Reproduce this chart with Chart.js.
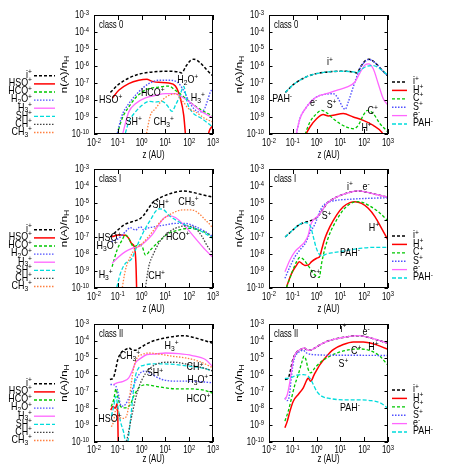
<!DOCTYPE html>
<html><head><meta charset="utf-8">
<script src="https://cdn.jsdelivr.net/npm/chart.js@4"></script>
<style>
html,body{margin:0;padding:0;background:#fff;}
#wrap{position:relative;width:449px;height:468px;overflow:hidden;background:#fff;}
canvas{position:absolute;left:0;top:0;}
</style></head><body><div id="wrap"></div>
<script>
// ---- axis tick labels ----
const xTickLabels = ["10^{-2}","10^{-1}","10^{0}","10^{1}","10^{2}","10^{3}"];
const yTickLabels = ["10^{-3}","10^{-4}","10^{-5}","10^{-6}","10^{-7}","10^{-8}","10^{-9}","10^{-10}"];
const leftSpecies = ["i^+","HSO^+","HCO^+","H_2O^+","H_3^+","SH^+","CH^+","CH_3^+"];
const rightSpecies = ["i^+","H^+","C^+","S^+","e^-","PAH^-"];
// ---- data: [log10 z(AU), log10 n(A)/nH] ----
// total ions (shared by both panels of a class)
const ip_c0 = [[-1.31,-7.55],[-1.0,-7.12],[-0.55,-6.72],[-0.13,-6.49],[0.29,-6.38],[0.71,-6.32],[1.13,-6.31],[1.55,-6.35],[1.68,-6.41],[1.87,-6.0],[2.07,-5.66],[2.2,-5.6],[2.45,-5.8],[2.75,-6.25],[3.0,-6.6]];
const ip_c1 = [[-1.32,-7.0],[-1.04,-6.64],[-0.72,-6.27],[-0.4,-6.1],[-0.1,-5.95],[0.07,-5.75],[0.25,-5.4],[0.45,-5.0],[0.7,-4.75],[1.0,-4.55],[1.4,-4.37],[1.75,-4.29],[2.1,-4.36],[2.5,-4.5],[3.0,-4.66]];
const ip_c2 = [[-1.33,-6.29],[-1.19,-6.2],[-1.09,-5.7],[-1.0,-5.11],[-0.91,-4.81],[-0.77,-4.58],[-0.63,-4.48],[-0.53,-4.42],[-0.42,-4.52],[-0.28,-4.56],[-0.07,-4.42],[0.21,-4.18],[0.56,-3.97],[0.98,-3.83],[1.4,-3.73],[1.75,-3.69],[2.1,-3.77],[2.52,-3.93],[3.0,-4.15]];
// class 0, molecular ions
const c0_HSO = [[-1.22,-7.88],[-0.96,-7.43],[-0.54,-7.04],[-0.12,-6.84],[0.23,-6.78],[0.35,-6.85],[0.5,-6.92],[0.72,-6.96],[1.14,-7.0],[1.42,-7.18],[1.63,-7.92],[1.77,-8.9],[1.87,-10.5],[2.3,null],[2.72,-10.5],[2.85,-9.8],[3.0,-9.5]];
const c0_HCO = [[-1.08,-10.3],[-0.82,-9.1],[-0.54,-8.41],[-0.26,-7.88],[0.02,-7.53],[0.3,-7.33],[0.72,-7.24],[1.14,-7.18],[1.42,-7.43],[1.7,-7.73],[2.12,-8.22],[2.54,-8.61],[3.0,-8.95]];
const c0_H2O = [[-1.08,-10.3],[-0.82,-8.9],[-0.54,-8.22],[-0.26,-7.73],[0.02,-7.33],[0.3,-7.04],[0.72,-6.84],[1.14,-6.84],[1.49,-6.94],[1.75,-7.4],[2.0,-8.1],[2.19,-8.5],[2.4,-8.7],[2.61,-8.6],[2.75,-8.12],[2.89,-7.53],[3.0,-7.3]];
const c0_H3 = [[-0.85,-10.3],[-0.54,-8.7],[-0.26,-8.22],[0.16,-7.88],[0.58,-7.73],[1.0,-7.63],[1.42,-7.63],[1.7,-7.82],[2.12,-8.22],[2.54,-8.7],[3.0,-9.05]];
const c0_SH = [[-0.75,-10.3],[-0.54,-9.3],[-0.26,-8.7],[0.02,-8.31],[0.3,-8.08],[0.58,-8.12],[0.86,-8.08],[1.07,-8.31],[1.28,-8.67],[1.42,-8.31],[1.59,-7.82],[1.77,-7.2],[1.91,-8.12],[2.12,-8.7],[2.54,-9.1],[3.0,-9.6]];
const c0_CH = [];
const c0_CH3 = [[0.16,-10.3],[0.37,-8.9],[0.58,-8.51],[0.86,-8.02],[1.14,-7.73],[1.42,-7.63],[1.7,-8.02],[1.98,-8.51],[2.26,-8.7],[2.68,-9.1],[3.0,-9.3]];
// class 0, atomic ions / electrons / PAH-
const c0_H = [[-0.56,-10.3],[-0.28,-9.59],[0.0,-9.1],[0.28,-8.86],[0.49,-8.94],[0.7,-8.9],[1.12,-8.8],[1.54,-9.0],[1.96,-9.2],[2.38,-9.49],[2.73,-9.88],[2.9,-10.3]];
const c0_C = [[-0.56,-10.3],[-0.28,-9.3],[0.0,-8.8],[0.21,-8.61],[0.42,-8.75],[0.7,-9.1],[0.98,-9.39],[1.26,-9.59],[1.54,-9.69],[1.75,-9.49],[1.96,-8.9],[2.14,-8.61],[2.38,-8.8],[2.66,-9.39],[3.0,-9.88]];
const c0_S = [[-0.9,-10.3],[-0.7,-9.1],[-0.42,-8.41],[-0.14,-7.96],[0.14,-7.73],[0.42,-7.65],[0.7,-7.63],[0.91,-7.92],[1.09,-8.41],[1.2,-8.55],[1.33,-8.12],[1.47,-7.53],[1.61,-6.94],[1.82,-6.16],[2.03,-5.75],[2.2,-5.62],[2.45,-5.8],[2.75,-6.25],[3.0,-6.6]];
const c0_e = [[-0.9,-10.3],[-0.7,-9.1],[-0.42,-8.41],[-0.14,-7.96],[0.14,-7.73],[0.42,-7.63],[0.84,-7.43],[1.26,-7.24],[1.61,-6.94],[1.82,-6.4],[2.03,-5.95],[2.17,-5.88],[2.38,-6.16],[2.59,-7.04],[2.8,-7.92],[3.0,-8.31]];
const c0_PAH = [[-1.31,-7.55],[-1.0,-7.12],[-0.55,-6.72],[-0.13,-6.49],[0.29,-6.38],[0.71,-6.32],[1.13,-6.31],[1.55,-6.35],[1.68,-6.39],[1.89,-6.2],[2.1,-6.02],[2.38,-5.98],[2.66,-6.16],[3.0,-6.55]];
// class I, molecular ions
const c1_HSO = [[-1.24,-6.98],[-0.96,-6.88],[-0.68,-6.9],[-0.54,-7.08],[-0.43,-7.37],[-0.3,-7.6],[-0.24,-8.5],[-0.2,-10.5]];
const c1_HCO = [[-1.24,-8.75],[-1.03,-7.76],[-0.82,-7.18],[-0.68,-6.88],[-0.54,-7.08],[-0.33,-7.57],[-0.12,-7.47],[0.02,-7.55],[0.16,-8.06],[0.37,-7.76],[0.72,-7.27],[1.14,-6.78],[1.56,-6.59],[1.98,-6.49],[2.4,-6.59],[2.75,-6.78],[3.0,-7.05]];
const c1_H2O = [[-1.27,-7.27],[-0.96,-7.08],[-0.68,-6.69],[-0.47,-6.45],[-0.26,-6.59],[-0.05,-6.39],[0.09,-6.59],[0.23,-6.49],[0.58,-6.39],[1.0,-6.29],[1.42,-6.2],[1.84,-6.2],[2.26,-6.39],[2.68,-6.69],[3.0,-6.98]];
const c1_H3 = [[-1.24,-8.55],[-0.96,-8.16],[-0.68,-7.86],[-0.4,-7.67],[-0.12,-7.57],[0.16,-7.27],[0.44,-6.88],[0.72,-6.29],[0.93,-5.9],[1.14,-5.76],[1.42,-5.85],[1.84,-6.39],[2.26,-7.08],[2.68,-7.76],[3.0,-8.2]];
const c1_SH = [[-1.1,-10.3],[-0.89,-9.14],[-0.68,-8.55],[-0.54,-8.45],[-0.4,-8.25],[-0.26,-7.76],[-0.05,-7.08],[0.16,-6.49],[0.37,-6.0],[0.58,-5.51],[0.72,-5.35],[0.93,-5.4],[1.14,-5.71],[1.56,-6.1],[1.98,-6.39],[2.4,-6.59],[3.0,-7.08]];
const c1_CH = [[0.13,-10.3],[0.3,-8.75],[0.51,-7.96],[0.72,-7.37],[1.0,-6.88],[1.42,-6.49],[1.84,-6.35],[2.26,-6.49],[2.54,-6.98],[2.75,-7.5],[3.0,-8.0]];
const c1_CH3 = [[-0.85,-10.3],[-0.68,-8.94],[-0.47,-8.16],[-0.26,-7.67],[-0.05,-7.47],[0.23,-7.08],[0.51,-6.59],[0.86,-6.0],[1.28,-5.61],[1.7,-5.41],[2.12,-5.41],[2.4,-5.61],[2.68,-6.0],[2.89,-6.3],[3.0,-6.5]];
// class I, atomic ions / electrons / PAH-
const c1_H = [[-1.26,-9.92],[-1.05,-9.14],[-0.84,-8.65],[-0.73,-8.45],[-0.59,-8.59],[-0.49,-8.67],[-0.35,-8.65],[-0.21,-8.45],[0.0,-8.25],[0.14,-8.12],[0.21,-7.76],[0.35,-7.08],[0.56,-6.39],[0.84,-5.71],[1.12,-5.22],[1.4,-4.98],[1.61,-4.92],[1.89,-5.02],[2.17,-5.31],[2.45,-5.8],[2.73,-6.49],[3.0,-7.18]];
const c1_C = [[-1.26,-9.96],[-1.05,-9.14],[-0.84,-8.45],[-0.7,-8.2],[-0.56,-8.31],[-0.42,-8.55],[-0.28,-8.84],[-0.14,-9.14],[0.0,-9.3],[0.11,-9.38],[0.21,-8.55],[0.35,-7.67],[0.56,-6.78],[0.84,-6.0],[1.12,-5.41],[1.4,-5.06],[1.68,-4.92],[1.96,-4.98],[2.24,-5.18],[2.59,-5.51],[3.0,-6.05]];
const c1_S = [[-1.33,-9.43],[-1.12,-8.75],[-0.91,-8.16],[-0.7,-7.76],[-0.49,-7.4],[-0.35,-7.0],[-0.25,-6.6],[-0.15,-6.45],[0.0,-6.0],[0.1,-5.6],[0.25,-5.2],[0.45,-4.98],[0.8,-4.85],[1.4,-4.78],[2.1,-4.73],[3.0,-4.69]];
const c1_e = [[-1.33,-9.04],[-1.12,-8.35],[-0.91,-7.86],[-0.7,-7.57],[-0.49,-7.27],[-0.35,-6.88],[-0.25,-6.29],[-0.14,-6.0],[0.07,-5.75],[0.25,-5.4],[0.45,-5.0],[0.7,-4.75],[1.0,-4.55],[1.4,-4.37],[1.75,-4.29],[2.1,-4.36],[2.5,-4.5],[3.0,-4.66]];
const c1_PAH = [[-1.32,-7.0],[-1.04,-6.64],[-0.72,-6.27],[-0.49,-6.15],[-0.35,-6.2],[-0.25,-6.39],[-0.14,-6.98],[-0.03,-7.57],[0.07,-7.92],[0.21,-8.12],[0.42,-8.0],[0.7,-7.92],[1.26,-7.8],[1.82,-7.67],[2.38,-7.61],[3.0,-7.61]];
// class II, molecular ions
const c2_HSO = [[-1.3,-8.1],[-1.2,-7.9],[-1.1,-8.0],[-1.03,-7.72],[-1.0,-8.5],[-0.98,-10.5]];
const c2_HCO = [[-1.28,-7.9],[-1.17,-7.48],[-1.08,-6.85],[-0.99,-7.38],[-0.89,-7.87],[-0.75,-7.97],[-0.61,-7.95],[-0.47,-7.77],[-0.33,-7.28],[-0.12,-6.79],[0.16,-6.6],[0.58,-6.69],[1.0,-6.79],[1.56,-6.85],[2.12,-6.85],[2.68,-6.95],[3.0,-7.12]];
const c2_H2O = [[-1.31,-6.59],[-1.17,-6.6],[-1.08,-6.69],[-0.99,-7.08],[-0.89,-7.77],[-0.8,-7.87],[-0.68,-7.77],[-0.47,-7.18],[-0.26,-6.39],[-0.05,-5.9],[0.16,-5.8],[0.44,-6.0],[0.86,-6.29],[1.42,-6.39],[1.98,-6.39],[2.54,-6.43],[3.0,-6.49]];
const c2_H3 = [[-1.2,-6.6],[-1.03,-6.49],[-0.89,-6.45],[-0.75,-6.39],[-0.54,-6.2],[-0.4,-5.8],[-0.26,-5.31],[-0.05,-5.05],[0.23,-4.81],[0.58,-4.78],[1.0,-4.72],[1.56,-4.76],[2.12,-4.87],[2.68,-5.11],[3.0,-5.55]];
const c2_SH = [[-1.27,-8.46],[-1.17,-7.87],[-1.08,-7.28],[-0.99,-7.97],[-0.89,-8.76],[-0.75,-9.45],[-0.63,-10.3],[-0.52,-9.35],[-0.4,-7.77],[-0.33,-6.79],[-0.26,-6.1],[-0.12,-5.6],[0.09,-5.45],[0.44,-5.37],[0.86,-5.37],[1.42,-5.4],[1.98,-5.5],[2.54,-5.6],[3.0,-5.8]];
const c2_CH = [[-0.68,-10.3],[-0.54,-9.35],[-0.4,-8.36],[-0.19,-7.08],[0.02,-6.29],[0.3,-5.7],[0.58,-5.41],[1.0,-5.27],[1.42,-5.27],[1.84,-5.37],[2.26,-5.5],[2.68,-5.64],[3.0,-5.8]];
const c2_CH3 = [[-1.27,-9.1],[-1.17,-8.76],[-1.08,-8.07],[-0.99,-8.2],[-0.89,-8.56],[-0.75,-8.6],[-0.61,-8.36],[-0.52,-7.58],[-0.44,-6.59],[-0.33,-5.6],[-0.19,-5.01],[0.02,-4.81],[0.3,-4.72],[0.72,-4.78],[1.28,-4.91],[1.84,-5.01],[2.4,-5.21],[3.0,-5.6]];
// class II, atomic ions / electrons / PAH-
const c2_H = [[-1.33,-9.15],[-1.23,-8.76],[-1.12,-8.17],[-0.98,-7.58],[-0.77,-7.18],[-0.56,-6.79],[-0.42,-6.35],[-0.35,-6.2],[-0.25,-6.4],[-0.1,-6.0],[0.14,-5.41],[0.42,-4.91],[0.7,-4.52],[1.12,-4.22],[1.54,-4.07],[1.96,-4.07],[2.38,-4.18],[3.0,-4.5]];
const c2_C = [[-1.33,-8.76],[-1.19,-8.17],[-1.05,-7.38],[-0.91,-6.59],[-0.77,-6.0],[-0.63,-5.31],[-0.53,-4.91],[-0.45,-5.11],[-0.35,-5.7],[-0.25,-5.9],[-0.07,-5.6],[0.21,-5.21],[0.56,-4.91],[0.98,-4.66],[1.4,-4.52],[1.82,-4.48],[2.24,-4.58],[2.66,-4.91],[3.0,-5.45]];
const c2_S = [[-1.33,-7.38],[-1.23,-7.54],[-1.15,-7.28],[-1.05,-6.0],[-0.95,-5.11],[-0.84,-4.78],[-0.7,-4.62],[-0.56,-4.56],[-0.42,-4.72],[-0.21,-4.81],[0.7,-4.85],[2.1,-4.86],[3.0,-4.87]];
const c2_e = [[-1.33,-7.5],[-1.23,-7.18],[-1.12,-6.4],[-1.0,-5.2],[-0.91,-4.81],[-0.77,-4.58],[-0.63,-4.48],[-0.53,-4.42],[-0.42,-4.52],[-0.28,-4.56],[-0.07,-4.42],[0.21,-4.18],[0.56,-3.97],[0.98,-3.83],[1.4,-3.73],[1.75,-3.69],[2.1,-3.77],[2.52,-3.93],[3.0,-4.15]];
const c2_PAH = [[-1.33,-6.23],[-1.12,-6.2],[-0.84,-6.04],[-0.56,-6.0],[-0.35,-6.1],[-0.21,-6.39],[0.0,-6.98],[0.21,-7.28],[0.56,-7.42],[1.12,-7.5],[1.68,-7.5],[2.24,-7.54],[2.66,-7.67],[3.0,-8.0]];
// ---- in-plot labels: [text, log10 z, log10 n] (text centre) ----
const lab_c0L = [["HSO^+",-1.3,-8.0],["HCO^+",0.47,-7.59],["H_2O^+",1.94,-6.82],["H_3^+",2.36,-7.88],["SH^+",-0.33,-9.29],["CH_3^+",0.93,-9.29]];
const lab_c0R = [["i^+",0.56,-5.8],["PAH^-",-1.45,-7.96],["e^-",-0.13,-8.16],["S^+",0.63,-8.28],["C^+",2.36,-8.65],["H^+",2.1,-9.65]];
const lab_c1L = [["SH^+",0.8,-5.12],["CH_3^+",1.97,-4.92],["HSO^+",-1.34,-7.08],["H_3O^+",-1.45,-7.53],["HCO^+",1.52,-6.98],["H_3^+",-1.51,-9.24],["CH^+",0.63,-9.3]];
const lab_c1R = [["i^+",1.4,-4.08],["e^-",2.08,-4.08],["S^+",0.42,-5.8],["H^+",2.41,-6.49],["PAH^-",1.4,-7.92],["C^+",-0.07,-9.24]];
const lab_c2L = [["H_3^+",1.26,-4.29],["CH_3^+",-0.49,-4.89],["CH^+",2.24,-5.58],["SH^+",0.56,-5.94],["H_3O^+",2.36,-6.33],["HCO^+",2.39,-7.43],["HSO^+",-1.33,-8.65]];
const lab_c2R = [["i^+",1.13,-3.3],["e^-",2.08,-3.5],["H^+",2.39,-4.39],["C^+",1.66,-4.59],["S^+",1.13,-5.38],["PAH^-",1.4,-8.0]];

// ---- styles ----
const ST = {
  ip:{color:'#000000',dash:[3,2],width:1.5},
  red:{color:'#ff0000',dash:[],width:1.5},
  green:{color:'#00c800',dash:[3,2],width:1.3},
  blue:{color:'#5050ff',dash:[1.5,1.5],width:1.4},
  mag:{color:'#ff66ff',dash:[],width:1.3},
  cyan:{color:'#00dcdc',dash:[4,2],width:1.3},
  gray:{color:'#444444',dash:[1.5,1.5],width:1.3},
  orange:{color:'#ff8040',dash:[1.5,1.5],width:1.3}
};
const leftStyles = [ST.ip,ST.red,ST.green,ST.blue,ST.mag,ST.cyan,ST.gray,ST.orange];
const rightStyles = [ST.ip,ST.red,ST.green,ST.blue,ST.mag,ST.cyan];

const FONT = '"Liberation Sans", Arial, Helvetica, sans-serif';
function fontOf(s){ return s + 'px ' + FONT; }
function parseRich(s){
  const out=[]; let i=0;
  while(i<s.length){
    const ch=s[i];
    if(ch==='^'||ch==='_'){
      let t; if(s[i+1]==='{'){const j=s.indexOf('}',i+2); t=s.slice(i+2,j); i=j+1;} else {t=s[i+1]; i+=2;}
      out.push({t, m: ch==='^'?1:-1});
    } else {
      let j=i; while(j<s.length&&s[j]!=='^'&&s[j]!=='_') j++;
      out.push({t:s.slice(i,j), m:0}); i=j;
    }
  }
  return out;
}
// text styles: size (px) and horizontal squeeze
const TXT = {tick:{size:10,sx:0.78}, label:{size:10.5,sx:0.85}, ytitle:{size:11.5,sx:0.75}};
function drawRich(ctx, s, x, y, align, st, rotate){
  const parts=parseRich(s), size=st.size;
  ctx.save();
  ctx.translate(x,y); ctx.scale(st.sx,1); if(rotate) ctx.rotate(-Math.PI/2);
  let w=0;
  for(const p of parts){ ctx.font=fontOf(p.m?size*0.75:size); w+=ctx.measureText(p.t).width; }
  let cx = align==='right' ? -w : align==='center' ? -w/2 : 0;
  ctx.textBaseline='middle'; ctx.textAlign='left'; ctx.fillStyle='#000';
  for(const p of parts){
    const fs=p.m?size*0.75:size; ctx.font=fontOf(fs);
    const dy = p.m===1 ? -size*0.3 : p.m===-1 ? size*0.25 : 0;
    ctx.fillText(p.t,cx,dy); cx+=ctx.measureText(p.t).width;
  }
  ctx.restore();
}
function toXY(arr){ return arr.map(([lx,ly]) => ({x: Math.pow(10,lx), y: ly===null ? null : Math.pow(10,ly)})); }

function decor(p){
  return {
    id:'decor'+p.id,
    afterDraw(chart){
      const ctx=chart.ctx, a=chart.chartArea, xs=chart.scales.x, ys=chart.scales.y;
      ctx.save();
      ctx.strokeStyle='#000'; ctx.lineWidth=1; ctx.setLineDash([]);
      ctx.strokeRect(a.left+0.5,a.top+0.5,a.right-a.left-1,a.bottom-a.top-1);
      ctx.beginPath();
      for(let k=-2;k<=3;k++){
        const px=Math.round(xs.getPixelForValue(Math.pow(10,k)))+0.5;
        ctx.moveTo(px,a.bottom); ctx.lineTo(px,a.bottom-5);
        ctx.moveTo(px,a.top); ctx.lineTo(px,a.top+5);
      }
      for(let k=-10;k<=-3;k++){
        const py=Math.round(ys.getPixelForValue(Math.pow(10,k)))+0.5;
        ctx.moveTo(a.left,py); ctx.lineTo(a.left+3.5,py);
        ctx.moveTo(a.right,py); ctx.lineTo(a.right-3.5,py);
      }
      ctx.stroke();
      xTickLabels.forEach((t,i)=>{ drawRich(ctx,t,xs.getPixelForValue(Math.pow(10,i-2)),a.bottom+p.tickDY,'center',TXT.tick); });
      yTickLabels.forEach((t,i)=>{ drawRich(ctx,t,a.left-5,ys.getPixelForValue(Math.pow(10,-3-i))+0.5,'right',TXT.tick); });
      drawRich(ctx,'z (AU)',(a.left+a.right)/2,p.titleY,'center',TXT.tick);
      drawRich(ctx,'n(A)/n_H',a.left-29,(a.top+a.bottom)/2,'center',TXT.ytitle,true);
      drawRich(ctx,p.cls,a.left+5,a.top+10,'left',TXT.tick);
      p.labels.forEach(([t,lx,ly])=>{ drawRich(ctx,t,xs.getPixelForValue(Math.pow(10,lx)),ys.getPixelForValue(Math.pow(10,ly)),'center',TXT.label); });
      // legend
      const n=p.series.length;
      const sp = p.side==='left' ? 8.1 : 8.4;
      const y0 = p.side==='left' ? a.bottom-1.5-(n-1)*sp : a.bottom-52;
      p.series.forEach((s,i)=>{
        const y=y0+i*sp;
        ctx.save(); ctx.strokeStyle=s.style.color; ctx.lineWidth=s.style.width; ctx.setLineDash(s.style.dash);
        ctx.beginPath();
        if(p.side==='left'){ ctx.moveTo(34,y); ctx.lineTo(55,y); }
        else { ctx.moveTo(392,y); ctx.lineTo(407,y); }
        ctx.stroke(); ctx.restore();
        if(p.side==='left') drawRich(ctx,s.name,32,y-0.5,'right',TXT.label);
        else drawRich(ctx,s.name,413,y-0.5,'left',TXT.label);
      });
      ctx.restore();
    }
  };
}

const COL = {left:{L:94,R:213}, right:{L:269,R:388}};
const ROW = [{T:15,B:134,title:155,tickDY:9.5},{T:169,B:288,title:309.5,tickDY:9},{T:324,B:442,title:459.5,tickDY:8.5}];
function mk(names, styles, arrays){ return names.map((nm,i)=>({name:nm, style:styles[i], data:arrays[i]})); }
const panels = [
  {id:1,side:'left',row:0,cls:'class 0',labels:lab_c0L,series:mk(leftSpecies,leftStyles,[ip_c0,c0_HSO,c0_HCO,c0_H2O,c0_H3,c0_SH,c0_CH,c0_CH3])},
  {id:2,side:'right',row:0,cls:'class 0',labels:lab_c0R,series:mk(rightSpecies,rightStyles,[ip_c0,c0_H,c0_C,c0_S,c0_e,c0_PAH])},
  {id:3,side:'left',row:1,cls:'class I',labels:lab_c1L,series:mk(leftSpecies,leftStyles,[ip_c1,c1_HSO,c1_HCO,c1_H2O,c1_H3,c1_SH,c1_CH,c1_CH3])},
  {id:4,side:'right',row:1,cls:'class I',labels:lab_c1R,series:mk(rightSpecies,rightStyles,[ip_c1,c1_H,c1_C,c1_S,c1_e,c1_PAH])},
  {id:5,side:'left',row:2,cls:'class II',labels:lab_c2L,series:mk(leftSpecies,leftStyles,[ip_c2,c2_HSO,c2_HCO,c2_H2O,c2_H3,c2_SH,c2_CH,c2_CH3])},
  {id:6,side:'right',row:2,cls:'class II',labels:lab_c2R,series:mk(rightSpecies,rightStyles,[ip_c2,c2_H,c2_C,c2_S,c2_e,c2_PAH])}
];
const wrap=document.getElementById('wrap');
panels.forEach(p=>{
  const c=COL[p.side], r=ROW[p.row];
  p.titleY=r.title; p.tickDY=r.tickDY;
  const cv=document.createElement('canvas');
  cv.width=449; cv.height=468; cv.style.width='449px'; cv.style.height='468px';
  wrap.appendChild(cv);
  new Chart(cv,{
    type:'line',
    data:{datasets:p.series.map((s,i)=>({
      label:s.name, data:toXY(s.data), borderColor:s.style.color, borderWidth:s.style.width,
      borderDash:s.style.dash, pointRadius:0, fill:false, cubicInterpolationMode:'monotone',
      spanGaps:false, clip:0, order:-i
    }))},
    options:{
      responsive:false, animation:false, devicePixelRatio:1, events:[],
      layout:{padding:{left:c.L,right:449-c.R,top:r.T,bottom:468-r.B}},
      plugins:{legend:{display:false},tooltip:{enabled:false}},
      scales:{
        x:{type:'logarithmic',min:0.01,max:1000,display:false},
        y:{type:'logarithmic',min:1e-10,max:1e-3,display:false}
      }
    },
    plugins:[decor(p)]
  });
});
</script></body></html>
